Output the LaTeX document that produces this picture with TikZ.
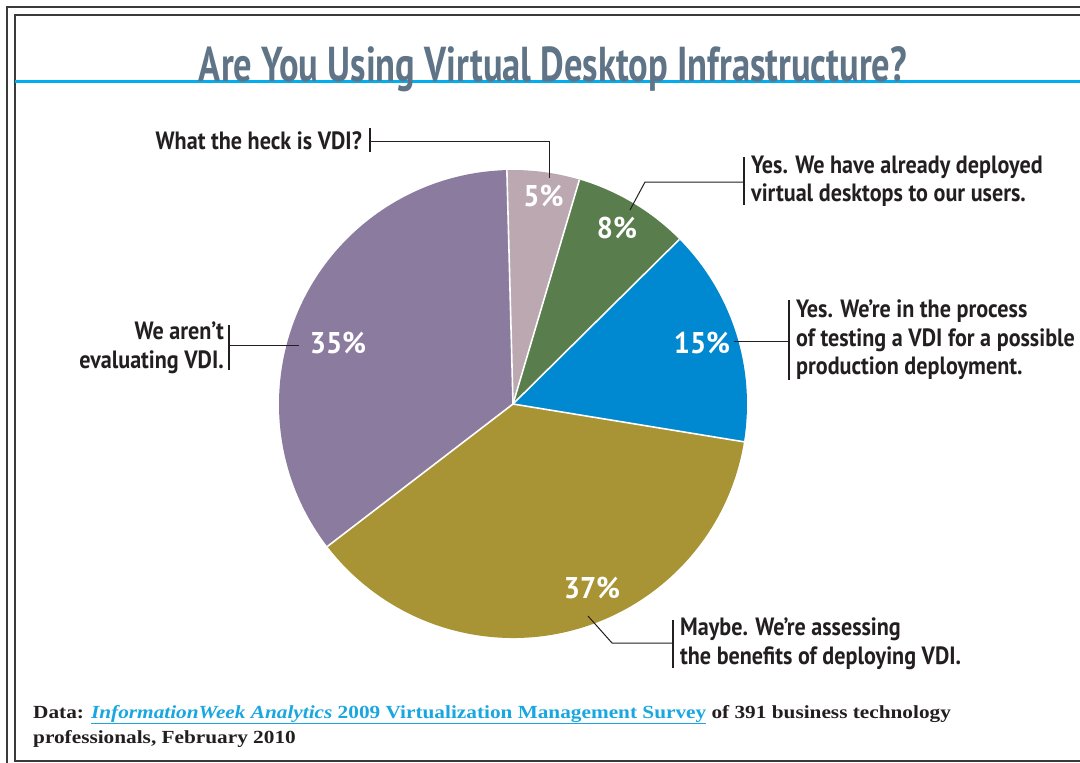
\documentclass[tikz,border=0pt]{standalone}
\usepackage{fontspec}
\setmainfont{Liberation Serif}
\newfontfamily\footfont[FakeStretch=1.15]{Liberation Serif}
\newfontfamily\titlefont[FakeStretch=0.745]{PT Sans}
\newfontfamily\labfont[FakeStretch=0.885]{PT Sans}
\newfontfamily\pctfont[FakeStretch=0.95]{PT Sans}
\definecolor{purplec}{HTML}{8B7B9F}
\definecolor{pinkc}{HTML}{BBA8B1}
\definecolor{greenc}{HTML}{597D4C}
\definecolor{bluec}{HTML}{0089D0}
\definecolor{goldc}{HTML}{A89434}
\definecolor{titlec}{HTML}{5F7487}
\definecolor{rulec}{HTML}{00AEEF}
\definecolor{linkc}{HTML}{1AA7E0}
\definecolor{inkc}{HTML}{231F20}
\definecolor{framec}{HTML}{3A3A3A}
\tikzset{
  lab/.style={inner sep=0pt, text=inkc, font=\labfont\bfseries\fontsize{25}{28.5}\selectfont},
  pct/.style={inner sep=0pt, text=white, font=\pctfont\bfseries\fontsize{30}{32}\selectfont, anchor=base},
  leader/.style={draw=inkc, line width=1pt},
  bar/.style={draw=inkc, line width=1.2pt},
  sep/.style={draw=white, line width=1.6pt},
  foot/.style={inner sep=0pt, anchor=base west, text=inkc, font=\footfont\bfseries\fontsize{18.5}{26}\selectfont}
}
\begin{document}
\begin{tikzpicture}[x=1pt,y=1pt]
\useasboundingbox (0,0) rectangle (1080,-763);
\fill[white] (0,0) rectangle (1080,-763);
% frames
\draw[framec, line width=2pt] (7,-6.5) rectangle (1095,-775);
\draw[framec, line width=2pt] (15,-15) rectangle (1090,-760.5);
% title rule and title
\draw[rulec, line width=3pt] (15,-81.5) -- (1080,-81.5);
\node[inner sep=0pt, anchor=base, text=titlec, font=\titlefont\bfseries\fontsize{49}{51}\selectfont] (title) at (553,-81) {Are You Using Virtual Desktop Infrastructure?};
% pie
\coordinate (c) at (513,-404);
\def\R{234}
\fill[pinkc]   (c) -- ++(91.5:\R) arc[start angle=91.5, end angle=73.5, radius=\R] -- cycle;
\fill[greenc]  (c) -- ++(73.5:\R) arc[start angle=73.5, end angle=44.7, radius=\R] -- cycle;
\fill[bluec]   (c) -- ++(44.7:\R) arc[start angle=44.7, end angle=-9.3, radius=\R] -- cycle;
\fill[goldc]   (c) -- ++(-9.3:\R) arc[start angle=-9.3, end angle=-142.5, radius=\R] -- cycle;
\fill[purplec] (c) -- ++(217.5:\R) arc[start angle=217.5, end angle=91.5, radius=\R] -- cycle;
\foreach \a in {91.5,73.5,44.7,-9.3,-142.5} \draw[sep] (c) -- ++(\a:\R);
% percentages
\node[pct] (p5)  at (543.5,-206) {5\%};
\node[pct] (p8)  at (617,-238) {8\%};
\node[pct] (p15) at (702,-353) {15\%};
\node[pct] (p35) at (338,-353) {35\%};
\node[pct] (p37) at (592,-598) {37\%};
% labels
\node[lab, anchor=east] (lwhat) at (362,-141) {What the heck is VDI?};
\node[lab, anchor=west, align=left] (lgreen) at (751,-181) {Yes. We have already deployed\\virtual desktops to our users.};
\node[lab, anchor=east, align=right] (lpurple) at (224,-348) {We aren’t\\evaluating VDI.};
\node[lab, anchor=west, align=left] (lblue) at (796,-340) {Yes. We’re in the process\\of testing a VDI for a possible\\production deployment.};
\node[lab, anchor=west, align=left] (lgold) at (680,-644) {Maybe. We’re assessing\\the benefits of deploying VDI.};
% leader coordinates
\coordinate (bw1) at (370,-128); \coordinate (bw2) at (370,-152);
\coordinate (bw) at (370,-141); \coordinate (kw) at (549,-141); \coordinate (ew) at (549,-178);
\coordinate (bg1) at (744,-157); \coordinate (bg2) at (744,-205);
\coordinate (bg) at (744,-182); \coordinate (kg) at (645,-182); \coordinate (eg) at (630,-210);
\coordinate (bp1) at (229,-325); \coordinate (bp2) at (229,-370);
\coordinate (bp) at (229,-345); \coordinate (ep) at (299,-345);
\coordinate (bb1) at (789,-300); \coordinate (bb2) at (789,-380);
\coordinate (bb) at (789,-341); \coordinate (eb) at (734,-341);
\coordinate (bo1) at (673,-620); \coordinate (bo2) at (673,-668);
\coordinate (bo) at (673,-643); \coordinate (ko) at (612,-643); \coordinate (eo) at (588,-616);
\draw[bar] (bw1) -- (bw2);
\draw[leader] (bw) -- (kw) -- (ew);
\draw[bar] (bg1) -- (bg2);
\draw[leader] (bg) -- (kg) -- (eg);
\draw[bar] (bp1) -- (bp2);
\draw[leader] (bp) -- (ep);
\draw[bar] (bb1) -- (bb2);
\draw[leader] (bb) -- (eb);
\draw[bar] (bo1) -- (bo2);
\draw[leader] (bo) -- (ko) -- (eo);
% footer
\node[foot] (f1) at (33,-718) {Data: \textcolor{linkc}{\underline{\textit{InformationWeek Analytics} 2009 Virtualization Management Survey}} of 391 business technology};
\node[foot] (f2) at (33,-743) {professionals, February 2010};
\end{tikzpicture}
\end{document}
